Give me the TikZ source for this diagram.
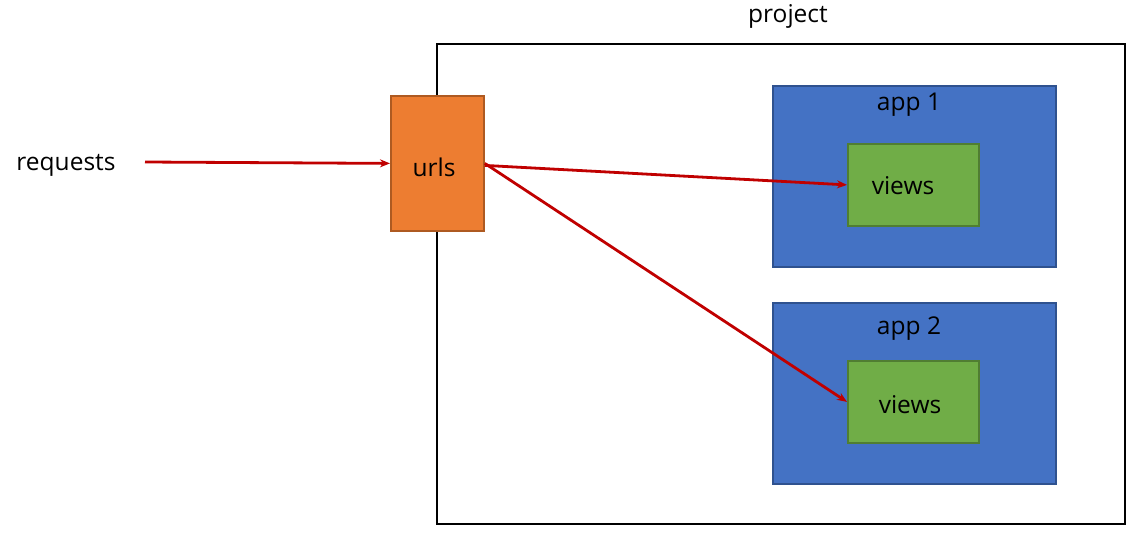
\documentclass[tikz,border=0pt]{standalone}
\usepackage{fontspec}
\setmainfont{Open Sans}
\usetikzlibrary{arrows.meta}

\definecolor{urlorange}{HTML}{ED7D31}
\definecolor{urledge}{HTML}{AE5A21}
\definecolor{appblue}{HTML}{4472C4}
\definecolor{appedge}{HTML}{2F528F}
\definecolor{viewgreen}{HTML}{70AD47}
\definecolor{viewedge}{HTML}{507E32}
\definecolor{flowred}{HTML}{C00000}

\tikzset{
    label text/.style={font=\fontsize{24.5}{28}\selectfont, inner sep=0pt},
    box/.style={anchor=north west, inner sep=0pt, line width=1.8pt},
    urlbox/.style={box, fill=urlorange, draw=urledge, minimum width=93pt, minimum height=135pt},
    appbox/.style={box, fill=appblue, draw=appedge, minimum width=283pt, minimum height=181pt},
    viewbox/.style={box, fill=viewgreen, draw=viewedge, minimum width=131pt, minimum height=82pt},
    flow/.style={-{Stealth[length=10pt, width=8pt]}, line width=2.8pt, flowred}
}

\begin{document}
\begin{tikzpicture}[x=1pt, y=-1pt]

    \useasboundingbox (0,0) rectangle (1133,535);

    % Project frame
    \draw[line width=2.2pt] (437,44) rectangle (1125,524);
    \node[label text] (projectlabel) at (788,16) {project};

    % Apps
    \node[appbox] (appone) at (772,85) {};
    \node[label text] (apponelabel) at (909,105) {app 1};
    \node[viewbox] (viewsone) at (847,143) {};
    \node[label text] at (903,186) {views};

    \node[appbox] (apptwo) at (772,302) {};
    \node[label text] (apptwolabel) at (909,329) {app 2};
    \node[viewbox] (viewstwo) at (847,360) {};
    \node[label text] at (910,405) {views};

    % urls sits on the frame edge
    \node[urlbox] (urls) at (390,95) {};
    \node[label text] (urlslabel) at (434,167) {urls};

    % Requests
    \node[label text] (requests) at (66,165) {requests};
    \coordinate (reqstart) at (145,162);

    % Arrows
    \draw[flow] (reqstart) -- (urls.west);
    \draw[flow] ([yshift=-2pt]urls.east) -- (viewsone.west);
    \draw[flow] (urls.east) -- (viewstwo.west);

\end{tikzpicture}
\end{document}
